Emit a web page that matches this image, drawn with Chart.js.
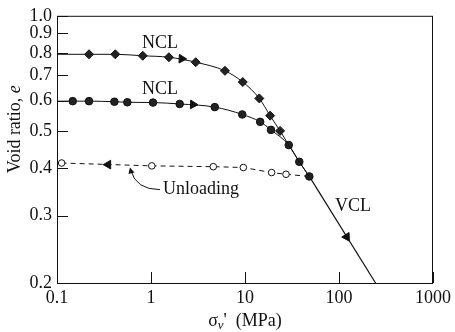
<!DOCTYPE html>
<html>
<head>
<meta charset="utf-8">
<script src="https://cdn.jsdelivr.net/npm/chart.js@4.4.1/dist/chart.umd.min.js"></script>
<style>
  html, body { margin: 0; padding: 0; background: #fff; }
  canvas { display: block; }
</style>
</head>
<body>
<canvas id="myChart" width="455" height="332"></canvas>
<script>
// loose sample (e0 ~ 0.79), NCL
var ncl1Stress = [0.1, 0.219, 0.417, 0.817, 1.55, 2.99, 6.12, 9.47, 14.2, 18.5, 23.6, 29.2, 37.8, 48.3];
var ncl1Void   = [0.793, 0.793, 0.793, 0.786, 0.779, 0.756, 0.718, 0.671, 0.608, 0.548, 0.500, 0.459, 0.415, 0.380];

// dense sample (e0 ~ 0.6), NCL
var ncl2Stress = [0.1, 0.147, 0.219, 0.408, 0.56, 1.05, 2.02, 4.77, 9.35, 14.5, 18.9, 29.2, 37.8, 48.3];
var ncl2Void   = [0.598, 0.598, 0.598, 0.596, 0.594, 0.593, 0.588, 0.577, 0.552, 0.528, 0.503, 0.459, 0.415, 0.380];

// VCL
var vclStress = [48.3, 245];
var vclVoid   = [0.380, 0.2];

// unloading branch
var unloadStress = [0.112, 1.02, 4.6, 9.6, 19.2, 27.3, 48.3];
var unloadVoid   = [0.412, 0.405, 0.403, 0.401, 0.389, 0.385, 0.380];

// direction arrows on the paths
var arrowStress = [2.12, 2.8, 120.8, 0.35];
var arrowVoid   = [0.772, 0.586, 0.264, 0.408];
var arrowAngle  = [92, 92, 148, 270];

var xTicks = [0.1, 1, 10, 100, 1000];
var xTickLabels = ['0.1', '1', '10', '100', '1000'];
var yTicks = [0.2, 0.3, 0.4, 0.5, 0.6, 0.7, 0.8, 0.9, 1.0];
var yTickLabels = ['0.2', '0.3', '0.4', '0.5', '0.6', '0.7', '0.8', '0.9', '1.0'];

var SERIF = "'Liberation Serif', 'Times New Roman', serif";
var FS = 18;

function pts(xs, ys) {
    return xs.map(function (x, i) { return { x: x, y: ys[i] }; });
}

Chart.defaults.font.family = SERIF;
Chart.defaults.font.size = FS;
Chart.defaults.color = '#111';

// frame, inward ticks, axis titles and notes
var decorations = {
    id: 'decorations',
    afterDraw: function (chart) {
        var c = chart.ctx;
        var a = chart.chartArea;
        var xs = chart.scales.x, ys = chart.scales.y;
        c.save();
        c.strokeStyle = '#111';
        c.lineWidth = 1;
        c.strokeRect(a.left + 0.5, a.top + 0.5, a.right - a.left - 1, a.bottom - a.top);

        c.beginPath();
        yTicks.forEach(function (v) {
            var py = Math.round(ys.getPixelForValue(v)) + 0.5;
            c.moveTo(a.left, py);
            c.lineTo(a.left + 11, py);
        });
        xTicks.forEach(function (v) {
            var px = Math.round(xs.getPixelForValue(v)) + 0.5;
            c.moveTo(px, a.bottom);
            c.lineTo(px, a.bottom - 11);
        });
        c.stroke();

        var f = FS + 'px ' + SERIF;
        var fi = 'italic ' + FS + 'px ' + SERIF;
        c.fillStyle = '#111';
        c.textBaseline = 'middle';
        c.textAlign = 'center';
        c.font = f;
        c.fillText('NCL', xs.getPixelForValue(1.25), ys.getPixelForValue(0.846));
        c.fillText('NCL', xs.getPixelForValue(1.25), ys.getPixelForValue(0.643));
        c.fillText('VCL', xs.getPixelForValue(141), ys.getPixelForValue(0.317));

        var ux = xs.getPixelForValue(3.4), uy = ys.getPixelForValue(0.351);
        c.fillText('Unloading', ux, uy);

        // curved pointer from the label to the dashed line
        var sx = ux - 41, sy = uy;
        var ex = ux - 71, ey = uy - 22;
        c.beginPath();
        c.moveTo(sx, sy);
        c.quadraticCurveTo(ex + 6, sy, ex + 1, ey + 3);
        c.stroke();
        c.beginPath();
        c.moveTo(ex, ey);
        c.lineTo(ex + 4.5, ey + 5);
        c.lineTo(ex - 1.5, ey + 6.5);
        c.closePath();
        c.fill();

        // x title: sigma_v' (MPa)
        var tx = xs.getPixelForValue(10), ty = a.bottom + 38;
        c.textAlign = 'left';
        c.font = f;
        var w1 = c.measureText('\u03c3').width;
        c.font = 'italic 13px ' + SERIF;
        var w2 = c.measureText('v').width;
        c.font = f;
        var rest = '\'  (MPa)';
        var w3 = c.measureText(rest).width;
        var x0 = tx - (w1 + w2 + w3) / 2;
        c.fillText('\u03c3', x0, ty);
        c.font = 'italic 13px ' + SERIF;
        c.fillText('v', x0 + w1, ty + 5);
        c.font = f;
        c.fillText(rest, x0 + w1 + w2, ty);

        // y title: Void ratio, e
        c.translate(15, ys.getPixelForValue(0.505));
        c.rotate(-Math.PI / 2);
        c.font = f;
        var t1 = 'Void ratio, ';
        var v1 = c.measureText(t1).width;
        c.font = fi;
        var v2 = c.measureText('e').width;
        c.font = f;
        c.fillText(t1, -(v1 + v2) / 2, 0);
        c.font = fi;
        c.fillText('e', -(v1 + v2) / 2 + v1, 0);
        c.restore();
    }
};

var ctx = document.getElementById('myChart');
var myChart = new Chart(ctx, {
    type: 'scatter',
    data: {
        datasets: [
            {
                data: pts(ncl1Stress, ncl1Void),
                showLine: true,
                cubicInterpolationMode: 'monotone',
                borderColor: '#111',
                borderWidth: 1,
                pointStyle: 'rectRot',
                pointRadius: ncl1Stress.map(function (v, i) { return (i === 0 || i > 10) ? 0 : 4.5; }),
                pointBackgroundColor: '#222',
                pointBorderColor: '#111',
                pointBorderWidth: 1
            },
            {
                data: pts(ncl2Stress, ncl2Void),
                showLine: true,
                cubicInterpolationMode: 'monotone',
                borderColor: '#111',
                borderWidth: 1,
                pointStyle: 'circle',
                pointRadius: ncl2Stress.map(function (v, i) { return i === 0 ? 0 : 3.8; }),
                pointBackgroundColor: '#222',
                pointBorderColor: '#111',
                pointBorderWidth: 1
            },
            {
                data: pts(vclStress, vclVoid),
                showLine: true,
                borderColor: '#111',
                borderWidth: 1.2,
                pointRadius: 0
            },
            {
                data: pts(unloadStress, unloadVoid),
                showLine: true,
                borderColor: '#111',
                borderWidth: 1,
                borderDash: [5, 4],
                pointStyle: 'circle',
                pointRadius: unloadStress.map(function (v, i) { return i === unloadStress.length - 1 ? 0 : 3.3; }),
                pointBackgroundColor: '#fff',
                pointBorderColor: '#111',
                pointBorderWidth: 1
            },
            {
                data: pts(arrowStress, arrowVoid),
                showLine: false,
                pointStyle: 'triangle',
                pointRadius: 5,
                rotation: arrowAngle,
                pointBackgroundColor: '#111',
                pointBorderColor: '#111',
                pointBorderWidth: 1
            }
        ]
    },
    plugins: [decorations],
    options: {
        responsive: false,
        animation: false,
        devicePixelRatio: 1,
        layout: {
            padding: { left: 0, right: 22, top: 14, bottom: 0 }
        },
        plugins: {
            legend: { display: false },
            tooltip: { enabled: false }
        },
        scales: {
            x: {
                type: 'logarithmic',
                min: 0.1,
                max: 1000,
                grid: { display: false, drawTicks: false },
                border: { display: false },
                afterBuildTicks: function (scale) {
                    scale.ticks = xTicks.map(function (v) { return { value: v }; });
                },
                afterFit: function (scale) { scale.height = 49; },
                ticks: {
                    padding: 4,
                    maxRotation: 0,
                    autoSkip: false,
                    color: '#111',
                    font: { size: FS },
                    callback: function (value) {
                        var i = xTicks.indexOf(value);
                        return i >= 0 ? xTickLabels[i] : '';
                    }
                }
            },
            y: {
                type: 'logarithmic',
                min: 0.2,
                max: 1.0,
                grid: { display: false, drawTicks: false },
                border: { display: false },
                afterBuildTicks: function (scale) {
                    scale.ticks = yTicks.map(function (v) { return { value: v }; });
                },
                afterFit: function (scale) { scale.width = 57; },
                ticks: {
                    padding: 5,
                    autoSkip: false,
                    color: '#111',
                    font: { size: FS },
                    callback: function (value) {
                        var i = yTicks.findIndex(function (t) { return Math.abs(t - value) < 1e-9; });
                        return i >= 0 ? yTickLabels[i] : '';
                    }
                }
            }
        }
    }
});
</script>
</body>
</html>
